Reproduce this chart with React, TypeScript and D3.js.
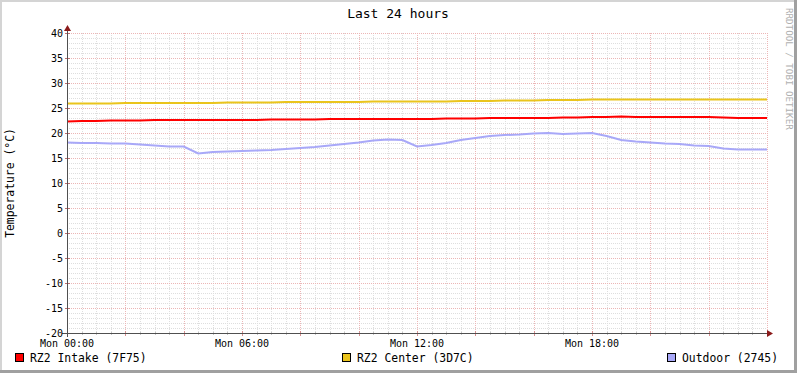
import * as React from "react";
import * as d3 from "d3";

// half-hour samples, Mon 00:00 .. Tue 00:00
const intake = [22.3, 22.4, 22.4, 22.5, 22.5, 22.5, 22.6, 22.6, 22.6, 22.6, 22.6, 22.6, 22.6, 22.6, 22.7, 22.7, 22.7, 22.7, 22.8, 22.8, 22.8, 22.8, 22.8, 22.8, 22.8, 22.8, 22.9, 22.9, 22.9, 23.0, 23.0, 23.0, 23.0, 23.0, 23.1, 23.1, 23.2, 23.2, 23.3, 23.2, 23.2, 23.2, 23.2, 23.2, 23.2, 23.1, 23.0, 23.0, 23.0];
const center = [25.9, 25.9, 25.9, 25.9, 26.0, 26.0, 26.0, 26.0, 26.0, 26.0, 26.0, 26.1, 26.1, 26.1, 26.1, 26.2, 26.2, 26.2, 26.2, 26.2, 26.2, 26.3, 26.3, 26.3, 26.3, 26.3, 26.3, 26.4, 26.4, 26.4, 26.5, 26.5, 26.5, 26.6, 26.6, 26.6, 26.7, 26.7, 26.7, 26.7, 26.7, 26.7, 26.7, 26.7, 26.7, 26.7, 26.7, 26.7, 26.7];
const outdoor = [18.1, 18.0, 18.0, 17.9, 17.9, 17.7, 17.5, 17.3, 17.3, 15.9, 16.2, 16.3, 16.4, 16.5, 16.6, 16.8, 17.0, 17.2, 17.5, 17.8, 18.1, 18.5, 18.7, 18.6, 17.3, 17.6, 18.0, 18.6, 19.0, 19.4, 19.6, 19.7, 19.9, 20.0, 19.8, 19.9, 20.0, 19.4, 18.6, 18.3, 18.1, 17.9, 17.8, 17.5, 17.4, 16.9, 16.7, 16.7, 16.7];

const seriesNames = ["RZ2 Intake (7F75)", "RZ2 Center (3D7C)", "Outdoor (2745)"];
const seriesColors = ["#FF0000", "#EAC41C", "#A8A8F8"];
const yTicks = [40, 35, 30, 25, 20, 15, 10, 5, 0, -5, -10, -15, -20];
const xLabels = ["Mon 00:00", "Mon 06:00", "Mon 12:00", "Mon 18:00"];

const W = 797;
const H = 373;
const font = "'DejaVu Sans Mono', monospace";

const App = () => {
  const x = d3.scaleLinear().domain([0, 24]).range([67, 767]);
  const y = d3.scaleLinear().domain([-20, 40]).range([333, 33]);

  const line = d3
    .line<number>()
    .x((d, i) => x(i * 0.5))
    .y(d => y(d))
    .curve(d3.curveLinear);

  const minorY = d3.range(-20, 41, 1).filter(v => v % 5 !== 0);
  const minorX = d3.range(0, 24.01, 0.5).filter(v => v % 2 !== 0);
  const majorX = d3.range(0, 24.01, 2);
  const series = [intake, center, outdoor];
  const legendX = [15, 342, 667];
  const px = (v: number) => Math.round(x(v)) + 0.5;

  return (
    <svg
      width={W}
      height={H}
      style={{ position: "absolute", left: 0, top: 0, display: "block" }}
      fontFamily={font}
    >
      <rect x={0} y={0} width={W} height={H} fill="#ffffff" />
      {/* frame */}
      <rect x={0} y={0} width={W} height={2} fill="#d4d4d4" />
      <rect x={0} y={0} width={2} height={H} fill="#d4d4d4" />
      <rect x={W - 3} y={0} width={3} height={H} fill="#a0a0a0" />
      <rect x={0} y={H - 3} width={W} height={3} fill="#a0a0a0" />

      <g shapeRendering="crispEdges">
        {minorY.map(v => (
          <line key={"my" + v} x1={67} x2={767} y1={y(v) + 0.5} y2={y(v) + 0.5} stroke="#dedede" strokeDasharray="1,1" />
        ))}
        {minorX.map(v => (
          <line key={"mx" + v} x1={px(v)} x2={px(v)} y1={33} y2={333} stroke="#dedede" strokeDasharray="1,1" />
        ))}
        {yTicks.map(v => (
          <line key={"My" + v} x1={67} x2={767} y1={y(v) + 0.5} y2={y(v) + 0.5} stroke="#ecb6b6" strokeDasharray="1,1" />
        ))}
        {majorX.map(v => (
          <line key={"Mx" + v} x1={px(v)} x2={px(v)} y1={33} y2={333} stroke="#ecb6b6" strokeDasharray="1,1" />
        ))}
        {/* ticks */}
        {yTicks.map(v => (
          <line key={"ty" + v} x1={65} x2={70} y1={y(v) + 0.5} y2={y(v) + 0.5} stroke="#c07070" />
        ))}
        {majorX.map(v => (
          <line key={"tx" + v} x1={px(v)} x2={px(v)} y1={331} y2={336} stroke="#d89090" />
        ))}
        {minorX.map(v => (
          <line key={"tmx" + v} x1={px(v)} x2={px(v)} y1={332} y2={335} stroke="#c4c4c4" />
        ))}
      </g>

      {series.map((s, i) => (
        <path key={i} d={line(s) || ""} fill="none" stroke={seriesColors[i]} strokeWidth={2} />
      ))}

      {/* axes */}
      <g shapeRendering="crispEdges">
        <line x1={67.5} x2={67.5} y1={28} y2={337} stroke="#505050" />
        <line x1={62} x2={769} y1={333.5} y2={333.5} stroke="#505050" />
      </g>
      <path d="M64,31 L71,31 L67.5,25 Z" fill="#8b1a1a" />
      <path d="M767,330 L767,337 L773,333.5 Z" fill="#8b1a1a" />

      {yTicks.map(v => (
        <text key={"yl" + v} x={63} y={y(v) + 3.5} textAnchor="end" fontSize={10} fill="#000">
          {v}
        </text>
      ))}
      {xLabels.map((l, i) => (
        <text key={l} x={x(i * 6)} y={347} textAnchor="middle" fontSize={10} fill="#000">
          {l}
        </text>
      ))}

      <text x={398} y={18} textAnchor="middle" fontSize={13} fill="#000">
        Last 24 hours
      </text>
      <text transform="translate(14,183) rotate(-90)" textAnchor="middle" fontSize={11.4} fill="#000">
        Temperature (°C)
      </text>
      <text transform="translate(786,8) rotate(90)" textAnchor="start" fontSize={9.2} fill="#b0b0b0">
        RRDTOOL / TOBI OETIKER
      </text>

      {seriesNames.map((n, i) => (
        <g key={n}>
          <rect x={legendX[i] + 0.5} y={353.5} width={8} height={8} fill={seriesColors[i]} stroke="#000" shapeRendering="crispEdges" />
          <text x={legendX[i] + 15} y={362} fontSize={11.4} fill="#000">
            {n}
          </text>
        </g>
      ))}
    </svg>
  );
};

export default App;
